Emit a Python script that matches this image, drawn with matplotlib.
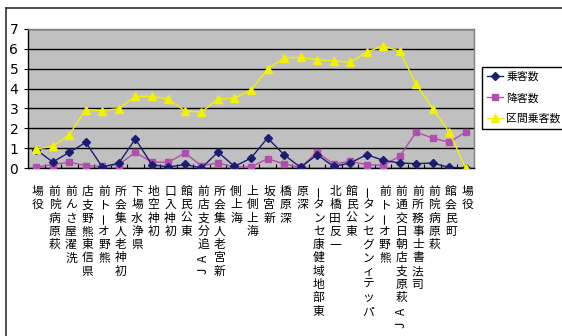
import matplotlib
matplotlib.use('Agg')
import matplotlib.pyplot as plt
from matplotlib import transforms
from matplotlib.lines import Line2D

# bus stops along the loop, in running order
stops = ['役場', '萩原病院前', '洗濯屋さん前', '県信東熊野支店', '熊野オート前',
         '初神老人集会所', '県浄水場下', '初神空地', '初神入口', '東公民館',
         'JA追分支店前', '新宮老人集会所', '海上側', '海上側上', '新宮坂',
         '深原橋', '深原', '東部地域健康センター', '一反田橋北', '東公民館',
         'パッティングセンター', '熊野オート前', 'JA萩原支店朝日交通前',
         '司法書士事務所前', '萩原病院前', '町民会館', '役場']

boarding = [0.92, 0.30, 0.79, 1.29, 0.05, 0.25, 1.46, 0.17, 0.05, 0.18,
            0.00, 0.80, 0.08, 0.50, 1.51, 0.67, 0.03, 0.67, 0.08, 0.25,
            0.67, 0.39, 0.25, 0.22, 0.25, 0.03, 0.00]
alighting = [0.05, 0.17, 0.29, 0.12, 0.08, 0.17, 0.79, 0.29, 0.29, 0.75,
             0.12, 0.25, 0.05, 0.05, 0.47, 0.20, 0.03, 0.79, 0.20, 0.34,
             0.17, 0.13, 0.59, 1.80, 1.51, 1.29, 1.81]
on_board = [0.96, 1.09, 1.68, 2.94, 2.89, 2.99, 3.62, 3.61, 3.47, 2.87,
            2.82, 3.47, 3.52, 3.93, 4.98, 5.54, 5.57, 5.45, 5.40, 5.32,
            5.82, 6.16, 5.87, 4.23, 2.99, 1.81, 0.00]

W, H = 562, 336
fig = plt.figure(figsize=(W / 100, H / 100), dpi=100)
fig.patch.set_facecolor('white')

# plot area in pixels: left 28, right 474, top 29, bottom 168
ax = fig.add_axes([28 / W, 1 - 168 / H, (474 - 28) / W, (168 - 29) / H])
ax.set_facecolor('#c0c0c0')

xs = list(range(len(stops)))
ax.plot(xs, boarding, color='#1c1c70', lw=1.0, marker='D', ms=4.2,
        label='乗客数', zorder=4)
ax.plot(xs, alighting, color='#b04fae', lw=1.0, marker='s', ms=4.6,
        label='降客数', zorder=3)
ax.plot(xs, on_board, color='#f2f200', lw=1.0, marker='^', ms=6,
        label='区間乗客数', zorder=5)

ax.set_xlim(-0.5, len(stops) - 0.5)
ax.set_ylim(0, 7)
ax.set_yticks(range(8))
ax.grid(axis='y', color='black', lw=1.0)
ax.set_axisbelow(True)

ax.set_xticks([i + 0.5 for i in range(len(stops) - 1)])
ax.tick_params(axis='x', direction='in', length=3, width=0.8,
               labelbottom=False, color='black')
ax.tick_params(axis='y', direction='out', length=3, width=0.8, pad=4,
               labelsize=10)
for lbl in ax.get_yticklabels():
    lbl.set_family(['Liberation Sans Narrow', 'DejaVu Sans'])

for side in ('left', 'bottom'):
    ax.spines[side].set_color('black')
    ax.spines[side].set_linewidth(1.0)
for side in ('top', 'right'):
    ax.spines[side].set_color('#808080')
    ax.spines[side].set_linewidth(1.0)

# category labels: characters stacked upright, read from bottom to top
trans = transforms.blended_transform_factory(ax.transData, fig.transFigure)
top_px, step_px = 191.5, 13.3
for i, name in enumerate(stops):
    for k, ch in enumerate(reversed(name)):
        rot = 90 if (ch.isascii() or ch == 'ー') else 0
        ax.text(i + 0.1, 1 - (top_px + k * step_px) / H, ch, transform=trans,
                ha='center', va='center', rotation=rot, fontsize=8.5,
                family=['Noto Sans CJK JP', 'DejaVu Sans'], clip_on=False)

leg = fig.legend(loc='upper left', bbox_to_anchor=(482 / W, 1 - 67 / H),
                 prop={'family': ['Noto Sans CJK JP', 'DejaVu Sans'],
                       'size': 7.8},
                 fancybox=False, framealpha=1, edgecolor='black',
                 handlelength=1.5, handletextpad=0.3, labelspacing=0.95,
                 borderpad=0.45, borderaxespad=0)
leg.get_frame().set_linewidth(1.0)

# chart area outline
fig.add_artist(Line2D([6 / W, 1], [1 - 8 / H, 1 - 8 / H], color='#303030',
                      lw=1.2, transform=fig.transFigure))
fig.add_artist(Line2D([6 / W, 6 / W], [0, 1 - 8 / H], color='#303030',
                      lw=1.2, transform=fig.transFigure))

fig.savefig('out.png', dpi=100)
